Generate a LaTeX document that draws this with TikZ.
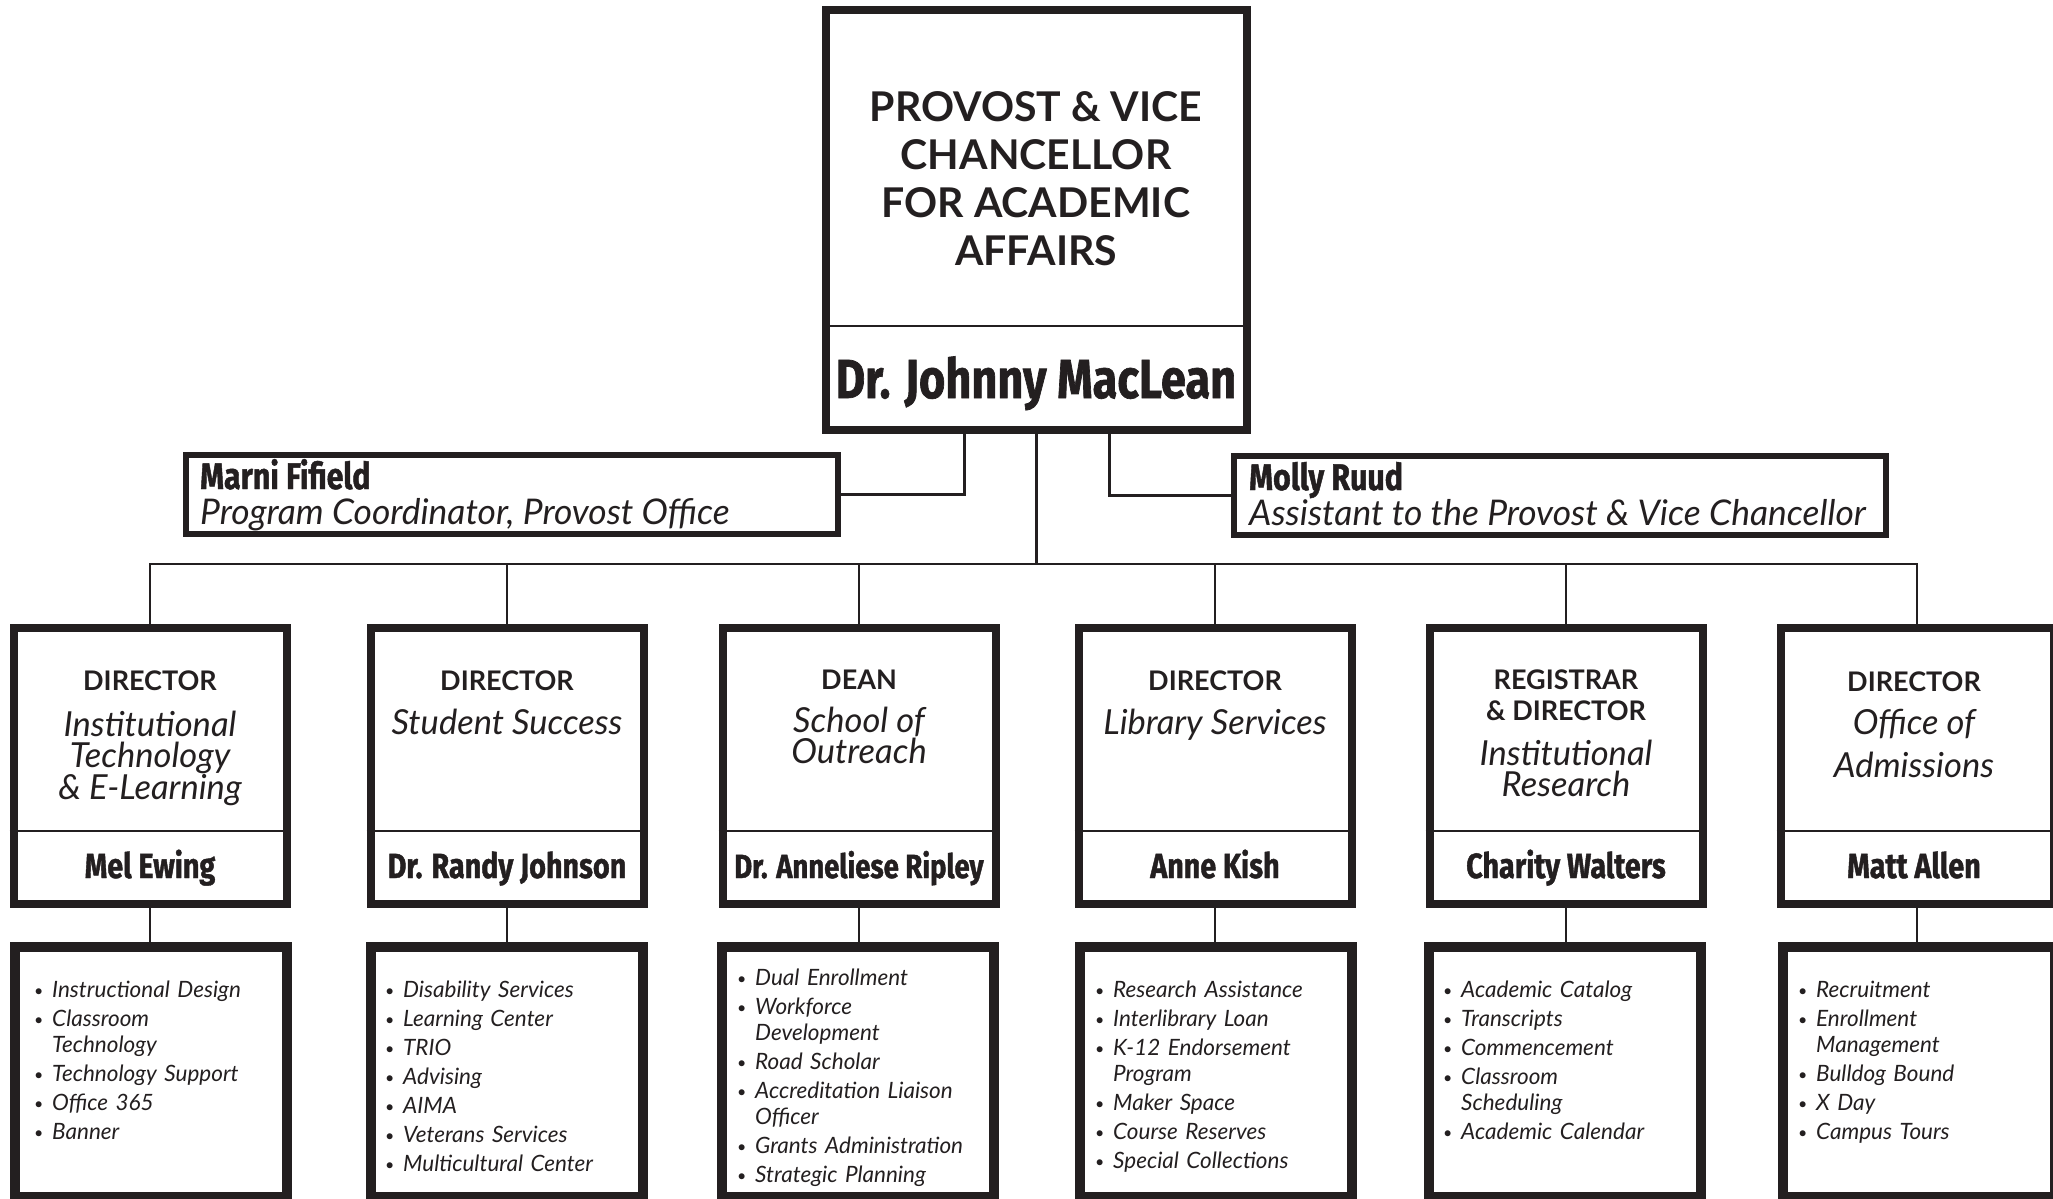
\documentclass[tikz,border=0pt]{standalone}
\usepackage{fontspec}
\setmainfont{Lato}
\newfontfamily\namefont[FakeStretch=0.82,FakeBold=1.2]{Fira Sans}
\definecolor{ink}{RGB}{35,31,32}
\newcommand\itm[1]{\par\hangindent=18pt\hangafter=1\noindent\makebox[18pt][l]{\raisebox{1pt}{\upshape\fontsize{16}{16}\selectfont\textbullet}}#1}

\begin{document}
\begin{tikzpicture}[x=1pt,y=-1pt,
  every node/.style={inner sep=0pt,text=ink},
  topbox/.style={draw=ink,line width=8pt,minimum width=421pt,minimum height=420pt},
  staffbox/.style={draw=ink,line width=6pt,minimum width=652pt,minimum height=79pt},
  headbox/.style={draw=ink,line width=8pt,minimum width=273pt,minimum height=276pt},
  listbox/.style={draw=ink,line width=10pt,minimum width=272pt,minimum height=250pt},
  link/.style={draw=ink,line width=2.5pt},
  toptitle/.style={font=\bfseries\fontsize{41}{48}\selectfont,align=center},
  bigname/.style={font=\namefont\bfseries\fontsize{55}{60}\selectfont,anchor=base},
  staffname/.style={font=\namefont\bfseries\fontsize{37}{42}\selectfont,anchor=base west},
  stafftitle/.style={font=\itshape\fontsize{35.4}{40}\selectfont,anchor=base west},
  role/.style={font=\bfseries\fontsize{27}{31}\selectfont,align=center},
  dept/.style={font=\itshape\fontsize{34.5}{31}\selectfont,align=center},
  headname/.style={font=\namefont\bfseries\fontsize{35}{40}\selectfont,anchor=base},
  items/.style={anchor=north west,text width=245pt,align=left,font=\itshape\fontsize{22.5}{26}\selectfont\setlength{\parskip}{3pt}}]
\useasboundingbox (0,0) rectangle (2053,1199);

\node[topbox] (prov) at (1036.5,220) {};
\draw[link] ([yshift=-320pt]prov.north west) -- ([yshift=-320pt]prov.north east);
\node[toptitle] (provtitle) at (1036,178.5) {PROVOST \& VICE\\CHANCELLOR\\FOR ACADEMIC\\AFFAIRS};
\node[bigname] (provname) at (1036,398) {Dr. Johnny MacLean};

\node[staffbox] (marni) at (511.5,494.5) {};
\node[staffname] (marniname) at (200,489) {Marni Fifield};
\node[stafftitle] (marnititle) at (200,524) {Program Coordinator, Provost Office};
\node[staffbox] (molly) at (1560,495.5) {};
\node[staffname] (mollyname) at (1249,490) {Molly Ruud};
\node[stafftitle] (mollytitle) at (1249,525) {Assistant to the Provost \& Vice Chancellor};

\coordinate (bus) at (1036.5,564);
\draw[link] (prov.south) -- (bus);
\draw[link] ([xshift=-72pt]prov.south) |- (marni.east);
\draw[link] ([xshift=73pt]prov.south) |- (molly.west);

\node[headbox] (tech) at (150,766) {};
\node[headbox] (success) at (507,766) {};
\node[headbox] (outreach) at (859,766) {};
\node[headbox] (library) at (1215,766) {};
\node[headbox] (registrar) at (1566,766) {};
\node[headbox] (admissions) at (1917,766) {};
\draw[link] ([yshift=-207pt]tech.north west) -- ([yshift=-207pt]tech.north east);
\draw[link] ([yshift=-207pt]success.north west) -- ([yshift=-207pt]success.north east);
\draw[link] ([yshift=-207pt]outreach.north west) -- ([yshift=-207pt]outreach.north east);
\draw[link] ([yshift=-207pt]library.north west) -- ([yshift=-207pt]library.north east);
\draw[link] ([yshift=-207pt]registrar.north west) -- ([yshift=-207pt]registrar.north east);
\draw[link] ([yshift=-207pt]admissions.north west) -- ([yshift=-207pt]admissions.north east);
\draw[link] (tech.north) |- (bus);
\draw[link] (success.north) |- (bus);
\draw[link] (outreach.north) |- (bus);
\draw[link] (library.north) |- (bus);
\draw[link] (registrar.north) |- (bus);
\draw[link] (admissions.north) |- (bus);

\node[role,anchor=base] (techrole) at (150,690) {DIRECTOR};
\node[dept] (techdept) at (150,758.5) {Institutional\\Technology\\\& E-Learning};
\node[headname] (techname) at (150,878) {Mel Ewing};
\node[role,anchor=base] (successrole) at (507,690) {DIRECTOR};
\node[dept,anchor=base] (successdept) at (507,734) {Student Success};
\node[headname] (successname) at (507,878) {Dr. Randy Johnson};
\node[role,anchor=base] (outreachrole) at (859,689) {DEAN};
\node[dept] (outreachdept) at (859,735.5) {School of\\Outreach};
\node[headname] (outreachname) at (859,878) {\fontsize{33.5}{40}\selectfont Dr. Anneliese Ripley};
\node[role,anchor=base] (libraryrole) at (1215,690) {DIRECTOR};
\node[dept,anchor=base] (librarydept) at (1215,734) {Library Services};
\node[headname] (libraryname) at (1215,878) {Anne Kish};
\node[role] (registrarrole) at (1566,695) {REGISTRAR\\\& DIRECTOR};
\node[dept] (registrardept) at (1566,768) {Institutional\\Research};
\node[headname] (registrarname) at (1566,878) {Charity Walters};
\node[role,anchor=base] (admissionsrole) at (1914,691) {DIRECTOR};
\node[dept] (admissionsdept) at (1914,743) {Office of\\[12pt]Admissions};
\node[headname] (admissionsname) at (1914,878) {Matt Allen};

\node[listbox] (techlist) at (151,1072) {};
\node[listbox] (successlist) at (507,1072) {};
\node[listbox] (outreachlist) at (858,1072) {};
\node[listbox] (librarylist) at (1216,1072) {};
\node[listbox] (registrarlist) at (1565,1072) {};
\node[listbox] (admissionslist) at (1919,1072) {};
\draw[link] (tech.south) -- (tech.south |- techlist.north);
\draw[link] (success.south) -- (success.south |- successlist.north);
\draw[link] (outreach.south) -- (outreach.south |- outreachlist.north);
\draw[link] (library.south) -- (library.south |- librarylist.north);
\draw[link] (registrar.south) -- (registrar.south |- registrarlist.north);
\draw[link] (admissions.south) -- (admissions.south |- admissionslist.north);

\node[items] (techitems) at (34,968) {\itm{Instructional Design}\itm{Classroom\newline Technology}\itm{Technology Support}\itm{Office 365}\itm{Banner}};
\node[items] (successitems) at (385,968) {\itm{Disability Services}\itm{Learning Center}\itm{TRIO}\itm{Advising}\itm{AIMA}\itm{Veterans Services}\itm{Multicultural Center}};
\node[items] (outreachitems) at (737,956) {\itm{Dual Enrollment}\itm{Workforce\newline Development}\itm{Road Scholar}\itm{Accreditation Liaison\newline Officer}\itm{Grants Administration}\itm{Strategic Planning}};
\node[items] (libraryitems) at (1095,968) {\itm{Research Assistance}\itm{Interlibrary Loan}\itm{K-12 Endorsement\newline Program}\itm{Maker Space}\itm{Course Reserves}\itm{Special Collections}};
\node[items] (registraritems) at (1443,968) {\itm{Academic Catalog}\itm{Transcripts}\itm{Commencement}\itm{Classroom\newline Scheduling}\itm{Academic Calendar}};
\node[items] (admissionsitems) at (1798,968) {\itm{Recruitment}\itm{Enrollment\newline Management}\itm{Bulldog Bound}\itm{X Day}\itm{Campus Tours}};
\end{tikzpicture}
\end{document}
